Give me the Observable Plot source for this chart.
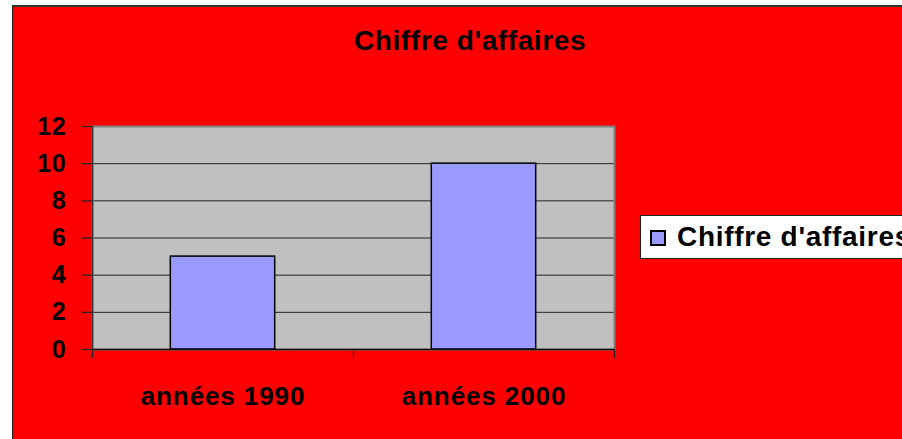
<!DOCTYPE html>
<html>
<head>
<meta charset="utf-8">
<script src="https://cdn.jsdelivr.net/npm/d3@7"></script>
<script src="https://cdn.jsdelivr.net/npm/@observablehq/plot@0.6"></script>
<style>
  html, body { margin: 0; padding: 0; background: #ffffff; }
  #wrap { position: relative; width: 902px; height: 439px; overflow: hidden; background: #ffffff;
          font-family: "Liberation Sans", Arial, sans-serif; font-weight: bold; }
  #bg { position: absolute; left: 12px; top: 5px; right: 0; bottom: 0; background: #ff0000;
        border-top: 2px solid #333; border-left: 1px solid #222; box-sizing: border-box; }
  #title { position: absolute; left: 0; width: 940px; top: 24px; text-align: center;
           font-size: 28px; line-height: 34px; color: #000; letter-spacing: 0.6px; }
  #chart { position: absolute; left: 0; top: 0; }
  #legend { position: absolute; left: 640px; top: 215px; width: 290px; height: 44px;
            background: #ffffff; border: 1px solid #222; box-sizing: border-box; }
  #legend .sw { position: absolute; left: 9px; top: 14px; width: 16px; height: 16px;
                background: #9999ff; border: 2px solid #000; box-sizing: border-box; }
  #legend .lb { position: absolute; left: 36px; top: 4px; font-size: 28px; line-height: 34px; color: #000;
                white-space: nowrap; letter-spacing: 0.7px; }
</style>
</head>
<body>
<div id="wrap">
  <div id="bg"></div>
  <div id="title"></div>
  <div id="chart"></div>
  <div id="legend"><div class="sw"></div><div class="lb"></div></div>
</div>
<script>
const titleText = "Chiffre d'affaires";
const seriesName = "Chiffre d'affaires";
const categories = ["années 1990", "années 2000"];
const values = [5, 10];
const yTicks = [0, 2, 4, 6, 8, 10, 12];

document.getElementById("title").textContent = titleText;
document.querySelector("#legend .lb").textContent = seriesName;

const table = categories.map((c, i) => ({category: c, value: values[i], pos: i}));
const boundaries = d3.range(categories.length + 1);
const centers = categories.map((c, i) => i + 0.5);

const chart = Plot.plot({
  width: 902,
  height: 439,
  marginLeft: 92,
  marginRight: 288,
  marginTop: 126,
  marginBottom: 90,
  style: {background: "transparent", fontFamily: "'Liberation Sans', Arial, sans-serif", fontWeight: "bold", fontSize: "25px", color: "#000", overflow: "visible", letterSpacing: "0.9px"},
  x: {type: "linear", domain: [0, categories.length], axis: null, label: null},
  y: {domain: [0, 12], axis: null, label: null},
  marks: [
    Plot.frame({fill: "#c0c0c0"}),
    Plot.gridY(yTicks, {stroke: "#222", strokeOpacity: 1, strokeWidth: 1}),
    Plot.frame({stroke: "#808080", strokeWidth: 2}),
    Plot.rectY(table, {x1: d => d.pos + 0.3, x2: d => d.pos + 0.7, y1: 0, y2: "value", fill: "#9999ff", stroke: "#000", strokeWidth: 1.5}),
    Plot.ruleX([0], {stroke: "#333", strokeWidth: 1.5}),
    Plot.ruleY([0], {stroke: "#111", strokeWidth: 1.5}),
    Plot.axisY({ticks: yTicks, label: null, tickSize: 10, tickPadding: 16, tickFormat: d => String(d), fontSize: 25, fontWeight: "bold", stroke: "#222", strokeWidth: 1.2}),
    Plot.axisX({ticks: boundaries, label: null, tickSize: 9, tickFormat: () => "", stroke: "#222", strokeWidth: 1.2}),
    Plot.axisX({ticks: centers, label: null, tickSize: 0, tickPadding: 37, tickFormat: d => categories[Math.floor(d)], fontSize: 26, fontWeight: "bold"})
  ]
});
document.getElementById("chart").appendChild(chart);
</script>
</body>
</html>
